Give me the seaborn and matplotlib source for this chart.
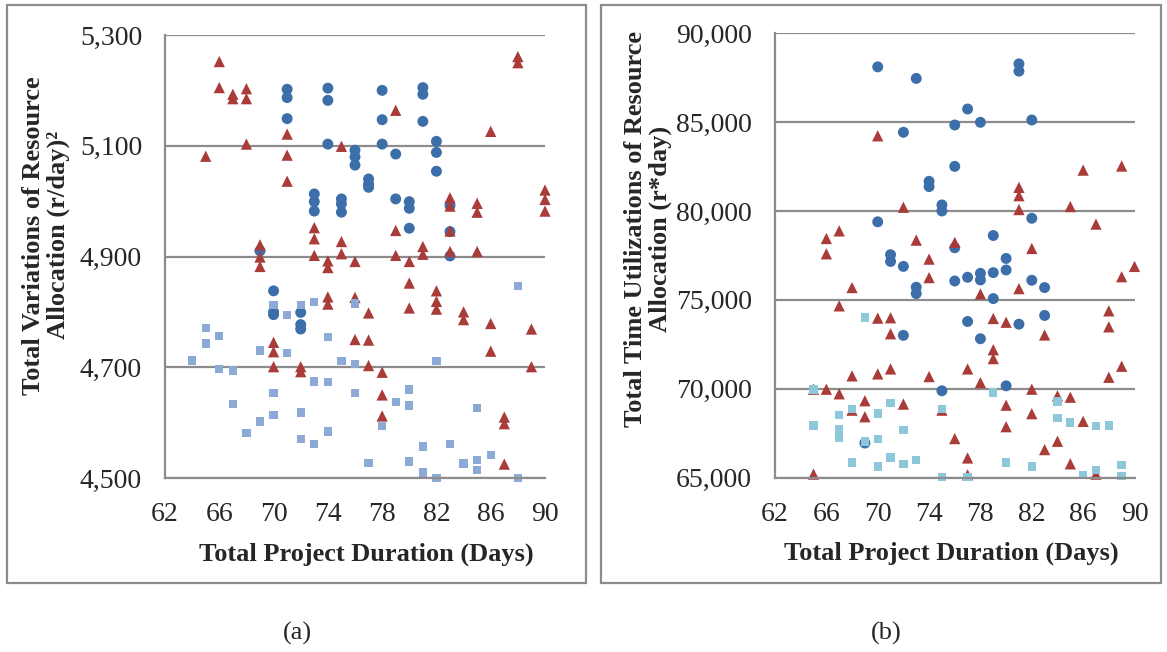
import matplotlib
matplotlib.use("Agg")
import matplotlib.pyplot as plt
import seaborn as sns
import pandas as pd
from matplotlib.patches import Rectangle
from matplotlib.ticker import FuncFormatter

# ---- panel (a): total variations of resource allocation ----
a_circ_days = [69, 70, 70, 70, 71, 71, 71, 72, 72, 72, 73, 73, 73, 74, 74, 74,
               75, 75, 75, 76, 76, 76, 77, 77, 77, 78, 78, 78, 79, 79, 80, 80, 80,
               81, 81, 81, 82, 82, 82, 83, 83, 83]
a_circ_vals = [4910, 4838, 4800, 4795, 5202, 5187, 5149, 4799, 4777, 4769, 5013, 4999, 4982,
               5204, 5182, 5103, 5004, 4995, 4980, 5092, 5080, 5065, 5040, 5031, 5025,
               5200, 5147, 5103, 5085, 5004, 4999, 4987, 4951, 5205, 5193, 5144,
               5108, 5088, 5054, 4992, 4945, 4901]

a_tri_days = [65, 66, 66, 67, 67, 68, 68, 68, 69, 69, 69, 70, 70, 70, 71, 71, 71, 72, 72,
              73, 73, 73, 74, 74, 74, 74, 75, 75, 75, 76, 76, 76, 77, 77, 77, 78, 78, 78,
              79, 79, 79, 80, 80, 80, 81, 81, 82, 82, 82, 83, 83, 83, 83, 84, 84,
              85, 85, 85, 86, 86, 86, 87, 87, 87, 88, 88, 89, 89, 90, 90, 90]
a_tri_vals = [5081, 5252, 5205, 5193, 5185, 5203, 5185, 5103, 4921, 4899, 4882,
              4745, 4728, 4701, 5121, 5083, 5036, 4701, 4692, 4952, 4932, 4902,
              4892, 4880, 4827, 4814, 5099, 4927, 4905, 4891, 4826, 4750,
              4798, 4749, 4703, 4691, 4650, 4612, 5164, 4947, 4902, 4891, 4852, 4807,
              4918, 4904, 4838, 4819, 4805, 5006, 4991, 4946, 4909, 4800, 4786,
              4996, 4980, 4909, 5126, 4779, 4729, 4610, 4598, 4525, 5261, 5250,
              4769, 4701, 5020, 5003, 4982]

a_sq_days = [64, 65, 65, 66, 66, 67, 67, 68, 69, 69, 70, 70, 70, 71, 71, 72, 72, 72,
             73, 73, 73, 74, 74, 74, 75, 76, 76, 76, 77, 78, 79, 80, 80, 80, 81, 81,
             82, 82, 83, 84, 85, 85, 85, 86, 88, 88]
a_sq_vals = [4712, 4771, 4743, 4757, 4697, 4694, 4634, 4581, 4730, 4602, 4813, 4654, 4614,
             4794, 4726, 4813, 4618, 4570, 4818, 4674, 4562, 4755, 4673, 4584, 4711,
             4815, 4706, 4654, 4527, 4594, 4637, 4660, 4631, 4530, 4557, 4510,
             4711, 4500, 4562, 4526, 4627, 4533, 4514, 4541, 4847, 4500]

# ---- panel (b): total time utilizations of resource allocation ----
b_circ_days = [69, 70, 70, 71, 71, 72, 72, 72, 73, 73, 73, 74, 74, 75, 75, 75,
               76, 76, 76, 76, 77, 77, 77, 78, 78, 78, 78, 79, 79, 79, 80, 80, 80,
               81, 81, 81, 82, 82, 82, 83, 83]
b_circ_vals = [66940, 88110, 79390, 77540, 77160, 84430, 76880, 73000, 87460, 75710, 75350,
               81670, 81370, 80340, 80000, 69880, 84840, 82510, 77930, 76060,
               85740, 76270, 73780, 84990, 76490, 76120, 72810, 78620, 76530, 75070,
               77330, 76680, 70160, 88280, 87870, 73630, 85120, 79590, 76100, 75690, 74120]

b_tri_days = [65, 65, 66, 66, 66, 67, 67, 67, 68, 68, 68, 69, 69, 70, 70, 70, 71, 71, 71,
              72, 72, 73, 74, 74, 74, 75, 76, 76, 77, 77, 77, 78, 78, 79, 79, 79,
              80, 80, 80, 81, 81, 81, 81, 82, 82, 82, 83, 83, 84, 84, 85, 85, 85,
              86, 86, 87, 87, 88, 88, 88, 89, 89, 89, 90]
b_tri_vals = [69970, 65190, 78450, 77590, 69970, 78880, 74660, 69710, 75690, 70720, 68790,
              69320, 68420, 84230, 73970, 70830, 73990, 73090, 71110, 80210, 69130, 78360,
              77290, 76250, 70680, 68790, 78230, 67190, 71110, 66100, 65150, 75330, 70340,
              73950, 72190, 71690, 73740, 69070, 67860, 81330, 80860, 80080, 75630,
              77890, 69970, 68590, 73020, 66570, 69600, 67040, 80250, 69520, 65770,
              82300, 68160, 79260, 65190, 74380, 73480, 70640, 82530, 76300, 71260, 76880]

b_sq_days = [65, 65, 67, 67, 67, 68, 68, 69, 69, 70, 70, 70, 71, 71, 72, 72, 73, 75, 75,
             77, 79, 80, 82, 84, 84, 85, 86, 87, 87, 88, 89, 89]
b_sq_vals = [69950, 67930, 68530, 67710, 67240, 68850, 65840, 74010, 67020, 68610, 67170,
             65620, 69200, 66120, 67690, 65770, 65990, 68850, 65040, 65040, 69780, 65840,
             65620, 69280, 68360, 68100, 65150, 67880, 65410, 67930, 65710, 65090]

x_ticks = [62, 66, 70, 74, 78, 82, 86, 90]
a_y_ticks = [4500, 4700, 4900, 5100, 5300]
b_y_ticks = [65000, 70000, 75000, 80000, 85000, 90000]

series_names = ["Series 1", "Series 2", "Series 3"]


def make_df(circ_d, circ_v, tri_d, tri_v, sq_d, sq_v):
    parts = []
    for name, d, v in zip(series_names, [circ_d, tri_d, sq_d], [circ_v, tri_v, sq_v]):
        parts.append(pd.DataFrame({"Days": d, "Value": v, "Series": name}))
    return pd.concat(parts, ignore_index=True)


df_a = make_df(a_circ_days, a_circ_vals, a_tri_days, a_tri_vals, a_sq_days, a_sq_vals)
df_b = make_df(b_circ_days, b_circ_vals, b_tri_days, b_tri_vals, b_sq_days, b_sq_vals)

sns.set_style("white")
plt.rcParams["font.family"] = ["Liberation Serif", "DejaVu Serif"]

W, H = 1167, 652
fig = plt.figure(figsize=(W / 100, H / 100), dpi=100)

grid_col = "#8c8c8c"
markers = {"Series 1": "o", "Series 2": "^", "Series 3": "s"}
sizes = {"Series 1": 62, "Series 2": 66, "Series 3": 36}


def px_axes(l, r, t, b):
    return fig.add_axes([l / W, 1 - b / H, (r - l) / W, (b - t) / H])


def style_axes(ax, yticks, ylabel):
    ax.set_xlim(62, 90)
    ax.set_ylim(yticks[0], yticks[-1])
    ax.set_xticks(x_ticks)
    ax.set_yticks(yticks)
    ax.yaxis.set_major_formatter(FuncFormatter(lambda v, p: f"{int(v):,}"))
    ax.grid(axis="y", color=grid_col, linewidth=1.6)
    ax.grid(axis="x", visible=False)
    ax.set_axisbelow(True)
    for s in ["top", "right"]:
        ax.spines[s].set_visible(False)
    for s in ["left", "bottom"]:
        ax.spines[s].set_color(grid_col)
        ax.spines[s].set_linewidth(1.6)
    ax.tick_params(axis="both", direction="out", length=5.5, width=1.4,
                   color=grid_col, labelsize=20)
    ax.tick_params(axis="x", pad=12)
    ax.tick_params(axis="y", pad=11)
    ax.set_xlabel("Total Project Duration (Days)", fontsize=19, fontweight="bold")
    ax.set_ylabel(ylabel, fontsize=19, fontweight="bold", linespacing=1.1)


# panel (a)
ax_a = px_axes(165, 545, 35, 478)
pal_a = {"Series 1": "#3C6EAA", "Series 2": "#A93B39", "Series 3": "#8DA9D6"}
sns.scatterplot(data=df_a, x="Days", y="Value", hue="Series", style="Series",
                size="Series", markers=markers, sizes=sizes, palette=pal_a,
                linewidth=0, alpha=1, clip_on=False, legend=False, ax=ax_a)
style_axes(ax_a, a_y_ticks, "Total Variations of Resource\nAllocation (r/day)\u00b2")
ax_a.xaxis.set_label_coords(0.53, -0.145)
ax_a.yaxis.set_label_coords(-0.25, 0.548)

# panel (b)
ax_b = px_axes(775, 1134.5, 33.3, 477.5)
pal_b = {"Series 1": "#3C6EAA", "Series 2": "#A93B39", "Series 3": "#8FC7DA"}
sns.scatterplot(data=df_b, x="Days", y="Value", hue="Series", style="Series",
                size="Series", markers=markers, sizes=sizes, palette=pal_b,
                linewidth=0, alpha=1, clip_on=False, legend=False, ax=ax_b)
style_axes(ax_b, b_y_ticks, "Total Time Utilizations of Resource\nAllocation (r*day)")
ax_b.xaxis.set_label_coords(0.49, -0.145)
ax_b.yaxis.set_label_coords(-0.287, 0.56)

# panel frames
for x0, x1 in [(7, 586), (601, 1161)]:
    fig.patches.append(Rectangle((x0 / W, 1 - 583 / H), (x1 - x0) / W, (583 - 5) / H,
                                 transform=fig.transFigure, fill=False,
                                 edgecolor=grid_col, linewidth=1.6))

fig.text(297 / W, 1 - 633 / H, "(a)", ha="center", va="center", fontsize=19)
fig.text(886 / W, 1 - 633 / H, "(b)", ha="center", va="center", fontsize=19)

fig.savefig("out.png", dpi=100)
